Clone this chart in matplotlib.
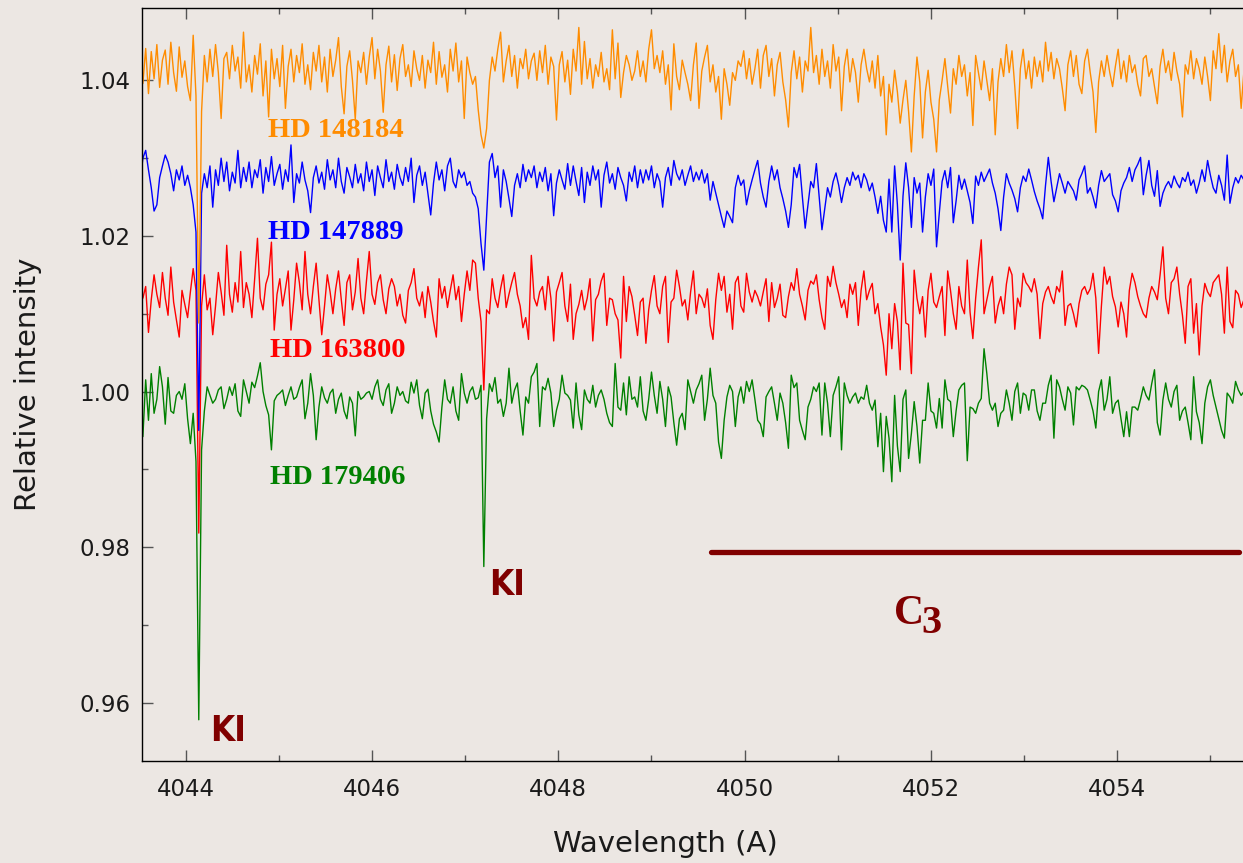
import matplotlib
matplotlib.use("Agg")
import matplotlib.pyplot as plt
import numpy as np
from matplotlib.ticker import MultipleLocator, FormatStrFormatter

# wavelength sampling of the spectra (A)
start_wl = 4043.51
step_wl = 0.03

hd148184 = [
    1.0430, 1.0396, 1.0441, 1.0383, 1.0437, 1.0402, 1.0446, 1.0391, 1.0426, 1.0439, 1.0395, 1.0449, 1.0410, 1.0386, 1.0443, 1.0404, 1.0425, 1.0392, 1.0374, 1.0458,
    1.0380, 1.0088, 1.0360, 1.0432, 1.0398, 1.0440, 1.0405, 1.0446, 1.0410, 1.0351, 1.0428, 1.0436, 1.0402, 1.0445, 1.0412, 1.0430, 1.0390, 1.0462, 1.0398, 1.0420,
    1.0385, 1.0432, 1.0408, 1.0447, 1.0380, 1.0425, 1.0353, 1.0440, 1.0402, 1.0428, 1.0392, 1.0445, 1.0364, 1.0418, 1.0440, 1.0398, 1.0432, 1.0410, 1.0447, 1.0395,
    1.0420, 1.0388, 1.0436, 1.0412, 1.0445, 1.0398, 1.0430, 1.0385, 1.0440, 1.0405, 1.0426, 1.0455, 1.0392, 1.0357, 1.0418, 1.0438, 1.0400, 1.0350, 1.0425, 1.0410,
    1.0436, 1.0395, 1.0430, 1.0455, 1.0402, 1.0440, 1.0412, 1.0359, 1.0420, 1.0444, 1.0398, 1.0433, 1.0387, 1.0428, 1.0446, 1.0405, 1.0420, 1.0392, 1.0438, 1.0415,
    1.0400, 1.0432, 1.0390, 1.0426, 1.0410, 1.0449, 1.0395, 1.0437, 1.0404, 1.0420, 1.0385, 1.0440, 1.0412, 1.0448, 1.0398, 1.0425, 1.0351, 1.0430, 1.0410, 1.0395,
    1.0405, 1.0362, 1.0330, 1.0313, 1.0338, 1.0400, 1.0430, 1.0412, 1.0440, 1.0462, 1.0398, 1.0425, 1.0445, 1.0405, 1.0432, 1.0390, 1.0428, 1.0415, 1.0440, 1.0402,
    1.0425, 1.0435, 1.0400, 1.0438, 1.0410, 1.0445, 1.0395, 1.0430, 1.0418, 1.0349, 1.0420, 1.0437, 1.0398, 1.0426, 1.0382, 1.0440, 1.0412, 1.0468, 1.0395, 1.0450,
    1.0402, 1.0428, 1.0390, 1.0420, 1.0405, 1.0436, 1.0398, 1.0415, 1.0388, 1.0465, 1.0402, 1.0448, 1.0378, 1.0410, 1.0432, 1.0420, 1.0400, 1.0412, 1.0438, 1.0405,
    1.0425, 1.0398, 1.0440, 1.0465, 1.0415, 1.0432, 1.0410, 1.0438, 1.0395, 1.0420, 1.0362, 1.0447, 1.0405, 1.0388, 1.0426, 1.0410, 1.0395, 1.0374, 1.0420, 1.0448,
    1.0364, 1.0412, 1.0430, 1.0445, 1.0398, 1.0420, 1.0385, 1.0405, 1.0350, 1.0415, 1.0395, 1.0368, 1.0410, 1.0400, 1.0425, 1.0418, 1.0438, 1.0402, 1.0428, 1.0395,
    1.0415, 1.0440, 1.0390, 1.0432, 1.0445, 1.0405, 1.0428, 1.0380, 1.0420, 1.0436, 1.0398, 1.0375, 1.0340, 1.0410, 1.0438, 1.0402, 1.0430, 1.0385, 1.0425, 1.0412,
    1.0468, 1.0410, 1.0432, 1.0395, 1.0440, 1.0405, 1.0425, 1.0390, 1.0446, 1.0412, 1.0430, 1.0361, 1.0418, 1.0440, 1.0398, 1.0428, 1.0410, 1.0372, 1.0420, 1.0440,
    1.0415, 1.0398, 1.0425, 1.0390, 1.0432, 1.0380, 1.0405, 1.0330, 1.0395, 1.0372, 1.0413, 1.0385, 1.0345, 1.0375, 1.0400, 1.0360, 1.0308, 1.0380, 1.0430, 1.0398,
    1.0326, 1.0385, 1.0413, 1.0372, 1.0350, 1.0308, 1.0375, 1.0400, 1.0428, 1.0392, 1.0358, 1.0415, 1.0395, 1.0432, 1.0405, 1.0420, 1.0380, 1.0410, 1.0342, 1.0432,
    1.0410, 1.0388, 1.0425, 1.0400, 1.0374, 1.0415, 1.0330, 1.0398, 1.0428, 1.0405, 1.0446, 1.0410, 1.0438, 1.0392, 1.0338, 1.0415, 1.0440, 1.0402, 1.0425, 1.0390,
    1.0430, 1.0405, 1.0425, 1.0398, 1.0449, 1.0412, 1.0436, 1.0402, 1.0428, 1.0415, 1.0390, 1.0361, 1.0420, 1.0438, 1.0405, 1.0432, 1.0395, 1.0383, 1.0425, 1.0440,
    1.0410, 1.0385, 1.0333, 1.0398, 1.0425, 1.0405, 1.0432, 1.0410, 1.0392, 1.0418, 1.0440, 1.0402, 1.0425, 1.0398, 1.0432, 1.0410, 1.0420, 1.0395, 1.0380, 1.0428,
    1.0432, 1.0405, 1.0415, 1.0392, 1.0370, 1.0418, 1.0440, 1.0410, 1.0425, 1.0400, 1.0436, 1.0412, 1.0395, 1.0353, 1.0420, 1.0408, 1.0438, 1.0402, 1.0428, 1.0415,
    1.0395, 1.0430, 1.0405, 1.0374, 1.0438, 1.0415, 1.0460, 1.0410, 1.0445, 1.0398, 1.0425, 1.0440, 1.0405, 1.0420, 1.0364, 1.0412,
]

hd147889 = [
    1.0269, 1.0300, 1.0310, 1.0285, 1.0262, 1.0232, 1.0240, 1.0275, 1.0290, 1.0304, 1.0295, 1.0280, 1.0258, 1.0285, 1.0272, 1.0290, 1.0265, 1.0278, 1.0262, 1.0240,
    1.0205, 0.9950, 1.0255, 1.0280, 1.0262, 1.0290, 1.0237, 1.0285, 1.0265, 1.0300, 1.0270, 1.0295, 1.0258, 1.0282, 1.0268, 1.0310, 1.0262, 1.0288, 1.0270, 1.0295,
    1.0262, 1.0285, 1.0275, 1.0298, 1.0255, 1.0288, 1.0270, 1.0302, 1.0265, 1.0280, 1.0292, 1.0260, 1.0285, 1.0270, 1.0317, 1.0243, 1.0280, 1.0268, 1.0295, 1.0272,
    1.0258, 1.0230, 1.0275, 1.0290, 1.0268, 1.0282, 1.0260, 1.0298, 1.0272, 1.0285, 1.0262, 1.0300, 1.0270, 1.0255, 1.0288, 1.0276, 1.0262, 1.0292, 1.0268, 1.0280,
    1.0258, 1.0295, 1.0270, 1.0285, 1.0252, 1.0290, 1.0275, 1.0262, 1.0298, 1.0270, 1.0282, 1.0260, 1.0292, 1.0275, 1.0265, 1.0288, 1.0270, 1.0300, 1.0243, 1.0278,
    1.0290, 1.0265, 1.0282, 1.0255, 1.0227, 1.0268, 1.0295, 1.0272, 1.0285, 1.0258, 1.0290, 1.0300, 1.0270, 1.0262, 1.0285, 1.0275, 1.0282, 1.0265, 1.0270, 1.0255,
    1.0250, 1.0235, 1.0190, 1.0156, 1.0225, 1.0295, 1.0306, 1.0275, 1.0290, 1.0237, 1.0285, 1.0270, 1.0248, 1.0225, 1.0265, 1.0280, 1.0262, 1.0292, 1.0270, 1.0285,
    1.0275, 1.0290, 1.0262, 1.0282, 1.0270, 1.0288, 1.0258, 1.0280, 1.0226, 1.0268, 1.0285, 1.0272, 1.0260, 1.0293, 1.0265, 1.0290, 1.0270, 1.0252, 1.0288, 1.0243,
    1.0282, 1.0265, 1.0290, 1.0272, 1.0285, 1.0237, 1.0278, 1.0295, 1.0268, 1.0280, 1.0260, 1.0288, 1.0275, 1.0265, 1.0245, 1.0282, 1.0270, 1.0290, 1.0262, 1.0285,
    1.0268, 1.0285, 1.0272, 1.0290, 1.0262, 1.0280, 1.0270, 1.0237, 1.0275, 1.0288, 1.0265, 1.0297, 1.0280, 1.0272, 1.0285, 1.0265, 1.0278, 1.0290, 1.0270, 1.0282,
    1.0272, 1.0285, 1.0268, 1.0280, 1.0246, 1.0270, 1.0255, 1.0240, 1.0225, 1.0211, 1.0232, 1.0225, 1.0217, 1.0262, 1.0278, 1.0265, 1.0272, 1.0240, 1.0258, 1.0272,
    1.0285, 1.0297, 1.0268, 1.0250, 1.0237, 1.0270, 1.0290, 1.0272, 1.0285, 1.0262, 1.0248, 1.0232, 1.0211, 1.0240, 1.0288, 1.0275, 1.0292, 1.0250, 1.0210, 1.0240,
    1.0270, 1.0262, 1.0293, 1.0250, 1.0208, 1.0235, 1.0262, 1.0250, 1.0270, 1.0281, 1.0265, 1.0243, 1.0262, 1.0275, 1.0265, 1.0282, 1.0272, 1.0278, 1.0262, 1.0280,
    1.0272, 1.0258, 1.0268, 1.0250, 1.0229, 1.0251, 1.0220, 1.0205, 1.0273, 1.0205, 1.0290, 1.0240, 1.0169, 1.0251, 1.0294, 1.0262, 1.0211, 1.0275, 1.0255, 1.0268,
    1.0205, 1.0250, 1.0280, 1.0265, 1.0286, 1.0186, 1.0230, 1.0270, 1.0284, 1.0262, 1.0288, 1.0217, 1.0245, 1.0278, 1.0260, 1.0273, 1.0258, 1.0243, 1.0216, 1.0277,
    1.0265, 1.0282, 1.0270, 1.0278, 1.0286, 1.0268, 1.0255, 1.0235, 1.0207, 1.0250, 1.0280, 1.0268, 1.0259, 1.0248, 1.0231, 1.0262, 1.0277, 1.0270, 1.0286, 1.0272,
    1.0257, 1.0245, 1.0235, 1.0222, 1.0265, 1.0301, 1.0270, 1.0244, 1.0262, 1.0280, 1.0268, 1.0255, 1.0270, 1.0264, 1.0258, 1.0246, 1.0272, 1.0280, 1.0290, 1.0255,
    1.0262, 1.0250, 1.0236, 1.0265, 1.0284, 1.0270, 1.0275, 1.0280, 1.0253, 1.0245, 1.0231, 1.0258, 1.0268, 1.0275, 1.0288, 1.0270, 1.0285, 1.0292, 1.0301, 1.0253,
    1.0278, 1.0297, 1.0265, 1.0251, 1.0284, 1.0238, 1.0255, 1.0264, 1.0270, 1.0262, 1.0277, 1.0268, 1.0262, 1.0275, 1.0270, 1.0282, 1.0265, 1.0272, 1.0255, 1.0268,
    1.0285, 1.0270, 1.0297, 1.0278, 1.0262, 1.0255, 1.0278, 1.0265, 1.0246, 1.0304, 1.0242, 1.0262, 1.0275, 1.0268, 1.0278, 1.0272,
]

hd163800 = [
    1.0139, 1.0120, 1.0135, 1.0076, 1.0118, 1.0150, 1.0125, 1.0108, 1.0153, 1.0120, 1.0098, 1.0160, 1.0115, 1.0092, 1.0070, 1.0130, 1.0112, 1.0095, 1.0128, 1.0158,
    1.0130, 0.9818, 1.0110, 1.0150, 1.0105, 1.0120, 1.0073, 1.0110, 1.0153, 1.0128, 1.0098, 1.0188, 1.0125, 1.0102, 1.0140, 1.0115, 1.0180, 1.0108, 1.0140, 1.0125,
    1.0095, 1.0145, 1.0197, 1.0120, 1.0105, 1.0138, 1.0150, 1.0192, 1.0079, 1.0125, 1.0145, 1.0110, 1.0132, 1.0155, 1.0079, 1.0118, 1.0165, 1.0140, 1.0105, 1.0180,
    1.0125, 1.0100, 1.0135, 1.0165, 1.0118, 1.0073, 1.0110, 1.0150, 1.0128, 1.0100, 1.0132, 1.0155, 1.0118, 1.0085, 1.0140, 1.0150, 1.0105, 1.0128, 1.0171, 1.0120,
    1.0100, 1.0142, 1.0180, 1.0125, 1.0112, 1.0140, 1.0150, 1.0118, 1.0100, 1.0132, 1.0145, 1.0135, 1.0110, 1.0125, 1.0098, 1.0088, 1.0130, 1.0140, 1.0158, 1.0120,
    1.0110, 1.0128, 1.0095, 1.0135, 1.0115, 1.0090, 1.0070, 1.0145, 1.0120, 1.0135, 1.0108, 1.0130, 1.0150, 1.0118, 1.0135, 1.0090, 1.0125, 1.0155, 1.0130, 1.0169,
    1.0165, 1.0120, 1.0090, 1.0002, 1.0105, 1.0100, 1.0145, 1.0120, 1.0108, 1.0132, 1.0150, 1.0108, 1.0125, 1.0140, 1.0153, 1.0125, 1.0110, 1.0082, 1.0095, 1.0067,
    1.0175, 1.0120, 1.0110, 1.0128, 1.0135, 1.0105, 1.0148, 1.0120, 1.0065, 1.0128, 1.0140, 1.0153, 1.0110, 1.0090, 1.0138, 1.0067, 1.0100, 1.0112, 1.0130, 1.0105,
    1.0120, 1.0145, 1.0065, 1.0118, 1.0125, 1.0142, 1.0152, 1.0085, 1.0120, 1.0118, 1.0100, 1.0092, 1.0043, 1.0148, 1.0090, 1.0135, 1.0122, 1.0098, 1.0072, 1.0115,
    1.0120, 1.0062, 1.0105, 1.0130, 1.0149, 1.0110, 1.0100, 1.0135, 1.0148, 1.0063, 1.0115, 1.0120, 1.0156, 1.0135, 1.0110, 1.0118, 1.0092, 1.0128, 1.0155, 1.0100,
    1.0125, 1.0120, 1.0108, 1.0132, 1.0085, 1.0067, 1.0118, 1.0152, 1.0130, 1.0148, 1.0102, 1.0125, 1.0080, 1.0140, 1.0148, 1.0110, 1.0102, 1.0152, 1.0128, 1.0115,
    1.0130, 1.0122, 1.0110, 1.0128, 1.0145, 1.0090, 1.0140, 1.0108, 1.0120, 1.0138, 1.0098, 1.0095, 1.0122, 1.0140, 1.0130, 1.0158, 1.0125, 1.0110, 1.0092, 1.0130,
    1.0142, 1.0138, 1.0150, 1.0118, 1.0095, 1.0080, 1.0148, 1.0135, 1.0161, 1.0140, 1.0125, 1.0108, 1.0118, 1.0095, 1.0138, 1.0125, 1.0140, 1.0085, 1.0130, 1.0155,
    1.0118, 1.0130, 1.0139, 1.0100, 1.0113, 1.0083, 1.0060, 1.0021, 1.0100, 1.0055, 1.0113, 1.0090, 1.0028, 1.0165, 1.0088, 1.0086, 1.0023, 1.0156, 1.0120, 1.0100,
    1.0122, 1.0070, 1.0130, 1.0152, 1.0115, 1.0108, 1.0122, 1.0135, 1.0072, 1.0155, 1.0130, 1.0100, 1.0080, 1.0135, 1.0110, 1.0100, 1.0169, 1.0102, 1.0068, 1.0120,
    1.0160, 1.0195, 1.0100, 1.0118, 1.0135, 1.0148, 1.0088, 1.0110, 1.0122, 1.0100, 1.0138, 1.0160, 1.0150, 1.0080, 1.0120, 1.0109, 1.0152, 1.0140, 1.0135, 1.0128,
    1.0145, 1.0125, 1.0068, 1.0113, 1.0128, 1.0135, 1.0122, 1.0113, 1.0135, 1.0128, 1.0155, 1.0085, 1.0110, 1.0113, 1.0100, 1.0083, 1.0113, 1.0130, 1.0135, 1.0125,
    1.0132, 1.0152, 1.0120, 1.0049, 1.0110, 1.0160, 1.0138, 1.0148, 1.0122, 1.0109, 1.0083, 1.0115, 1.0100, 1.0070, 1.0130, 1.0152, 1.0140, 1.0122, 1.0110, 1.0100,
    1.0095, 1.0120, 1.0135, 1.0128, 1.0118, 1.0150, 1.0186, 1.0120, 1.0100, 1.0140, 1.0145, 1.0160, 1.0125, 1.0098, 1.0062, 1.0135, 1.0145, 1.0075, 1.0113, 1.0047,
    1.0110, 1.0139, 1.0128, 1.0122, 1.0140, 1.0145, 1.0150, 1.0125, 1.0075, 1.0160, 1.0090, 1.0082, 1.0130, 1.0125, 1.0108, 1.0118,
]

hd179406 = [
    0.9985, 0.9942, 1.0015, 0.9963, 1.0023, 0.9972, 0.9990, 1.0032, 1.0006, 0.9958, 1.0018, 0.9975, 0.9972, 0.9995, 1.0000, 0.9990, 1.0010, 0.9965, 0.9933, 0.9972,
    0.9910, 0.9578, 0.9925, 0.9975, 1.0006, 0.9995, 0.9985, 0.9990, 1.0002, 1.0006, 0.9978, 0.9990, 1.0006, 0.9995, 1.0010, 0.9975, 0.9968, 1.0015, 1.0000, 0.9985,
    1.0012, 1.0005, 1.0020, 1.0037, 1.0000, 0.9982, 0.9970, 0.9925, 0.9988, 0.9995, 0.9998, 1.0002, 0.9982, 0.9995, 1.0006, 0.9990, 0.9993, 1.0005, 1.0015, 0.9965,
    0.9985, 1.0023, 0.9995, 0.9938, 0.9980, 1.0006, 0.9992, 0.9985, 0.9998, 1.0003, 0.9972, 0.9990, 0.9998, 0.9975, 0.9965, 0.9993, 0.9985, 0.9943, 1.0000, 0.9990,
    0.9993, 0.9998, 1.0000, 0.9990, 1.0006, 1.0015, 0.9990, 0.9982, 1.0002, 1.0010, 0.9972, 0.9985, 1.0006, 0.9995, 1.0000, 0.9988, 0.9985, 1.0012, 0.9998, 1.0015,
    0.9982, 0.9965, 0.9998, 1.0003, 0.9975, 0.9958, 0.9948, 0.9935, 0.9980, 1.0015, 0.9990, 0.9985, 1.0006, 0.9975, 0.9963, 1.0023, 0.9998, 0.9985, 1.0000, 1.0006,
    0.9990, 0.9992, 1.0008, 0.9775, 0.9965, 1.0010, 1.0000, 1.0018, 0.9985, 0.9990, 0.9968, 0.9985, 1.0030, 0.9985, 1.0002, 1.0011, 0.9975, 0.9944, 0.9993, 0.9985,
    1.0019, 1.0025, 1.0036, 0.9955, 1.0006, 1.0002, 1.0017, 0.9998, 0.9955, 0.9976, 0.9990, 1.0021, 0.9998, 0.9995, 0.9989, 0.9953, 1.0011, 0.9970, 0.9951, 1.0002,
    0.9990, 0.9985, 1.0008, 0.9980, 0.9995, 1.0002, 0.9990, 0.9972, 0.9960, 0.9955, 1.0036, 0.9980, 0.9976, 1.0011, 0.9970, 1.0019, 0.9990, 0.9993, 0.9980, 1.0019,
    0.9975, 0.9963, 0.9990, 1.0025, 0.9995, 0.9972, 1.0013, 0.9990, 0.9955, 1.0006, 0.9993, 0.9960, 0.9931, 0.9965, 0.9972, 0.9951, 1.0015, 1.0000, 0.9985, 1.0002,
    1.0010, 1.0021, 0.9963, 0.9990, 1.0030, 0.9995, 0.9985, 0.9935, 0.9914, 0.9963, 0.9993, 1.0008, 1.0000, 0.9955, 0.9993, 1.0006, 0.9985, 1.0013, 1.0000, 1.0015,
    0.9990, 0.9963, 0.9958, 0.9942, 0.9993, 1.0000, 1.0006, 0.9985, 0.9963, 0.9998, 0.9985, 0.9960, 0.9927, 1.0021, 1.0005, 1.0011, 0.9963, 0.9950, 0.9938, 0.9980,
    0.9990, 1.0006, 1.0000, 1.0011, 0.9944, 1.0011, 0.9985, 0.9942, 0.9995, 1.0006, 1.0019, 0.9925, 1.0011, 0.9995, 0.9985, 0.9993, 0.9998, 0.9985, 0.9993, 0.9990,
    1.0008, 0.9985, 0.9976, 0.9989, 0.9929, 0.9972, 0.9897, 0.9968, 0.9940, 0.9884, 0.9995, 0.9930, 0.9897, 0.9990, 1.0002, 0.9914, 0.9946, 0.9987, 0.9955, 0.9908,
    0.9963, 0.9963, 1.0011, 0.9975, 0.9972, 0.9953, 0.9991, 0.9953, 1.0015, 0.9990, 0.9987, 0.9942, 0.9975, 1.0002, 1.0008, 1.0011, 0.9911, 0.9980, 0.9978, 0.9972,
    0.9985, 0.9991, 1.0055, 1.0023, 0.9985, 0.9976, 0.9985, 0.9955, 0.9972, 0.9976, 1.0002, 0.9985, 0.9963, 1.0000, 1.0011, 0.9972, 0.9998, 0.9995, 0.9976, 1.0002,
    1.0002, 0.9975, 0.9963, 0.9985, 0.9985, 1.0008, 1.0021, 0.9940, 1.0015, 1.0006, 0.9990, 0.9976, 1.0006, 0.9998, 0.9957, 1.0006, 1.0002, 1.0008, 1.0006, 1.0002,
    0.9989, 0.9975, 0.9953, 1.0000, 1.0015, 0.9976, 0.9990, 1.0019, 0.9972, 0.9985, 0.9989, 0.9965, 0.9942, 0.9974, 0.9942, 0.9980, 0.9980, 0.9976, 0.9990, 1.0006,
    0.9995, 0.9989, 1.0010, 1.0028, 0.9960, 0.9944, 0.9989, 1.0011, 0.9990, 0.9980, 1.0000, 1.0008, 0.9963, 0.9975, 0.9980, 0.9960, 0.9938, 1.0019, 0.9974, 0.9960,
    0.9933, 0.9985, 1.0006, 1.0015, 0.9995, 0.9980, 0.9965, 0.9950, 0.9940, 0.9998, 0.9993, 0.9985, 1.0013, 1.0002, 0.9995, 1.0000,
]

star_names = ["HD 148184", "HD 147889", "HD 163800", "HD 179406"]
star_flux = [hd148184, hd147889, hd163800, hd179406]
star_colors = ["#ff8c00", "#0000ff", "#ff0000", "#008000"]
name_x = [4044.88, 4044.88, 4044.90, 4044.90]
name_y = [1.0336, 1.0205, 1.0053, 0.9890]

ki_x = [4044.26, 4047.26]
ki_y = [0.9563, 0.9751]
c3_start, c3_end, c3_level = 4049.64, 4055.31, 0.9794
dark_red = "#800000"

bg = "#ece7e3"
fig = plt.figure(figsize=(12.43, 8.63), dpi=100, facecolor=bg)
ax = fig.add_axes([0.1142, 0.1182, 0.8858, 0.8725], facecolor=bg)

# green first so the orange trace ends up on top
for name, flux, col in reversed(list(zip(star_names, star_flux, star_colors))):
    wl = start_wl + step_wl * np.arange(len(flux))
    ax.plot(wl, flux, color=col, lw=1.0)

for name, col, x, y in zip(star_names, star_colors, name_x, name_y):
    ax.text(x, y, name, color=col, fontsize=20.5, fontweight="bold",
            family="Liberation Serif", va="center", ha="left")

for x, y in zip(ki_x, ki_y):
    ax.text(x, y, "KI", color=dark_red, fontsize=25, fontweight="bold",
            family="DejaVu Sans", fontstretch="condensed", va="center", ha="left")

ax.plot([c3_start, c3_end], [c3_level, c3_level], color=dark_red, lw=3.8,
        solid_capstyle="round")
ax.text(4051.60, 0.9714, "C", color=dark_red, fontsize=30, fontweight="bold",
        family="Liberation Serif", va="center", ha="left")
ax.annotate("3", xy=(4051.60, 0.9714), xytext=(20, -7), textcoords="offset points",
            color=dark_red, fontsize=29, fontweight="bold", family="Liberation Serif",
            va="center", ha="left")

ax.set_xlim(4043.53, 4055.35)
ax.set_ylim(0.9525, 1.0493)
ax.xaxis.set_major_locator(MultipleLocator(2))
ax.xaxis.set_minor_locator(MultipleLocator(1))
ax.yaxis.set_major_locator(MultipleLocator(0.02))
ax.yaxis.set_minor_locator(MultipleLocator(0.01))
ax.xaxis.set_major_formatter(FormatStrFormatter("%d"))
ax.yaxis.set_major_formatter(FormatStrFormatter("%.2f"))

ax.tick_params(which="both", direction="in", top=True, right=False,
               color="#555555", labelcolor="#1a1a1a", labelsize=16.5)
ax.tick_params(which="major", length=8, width=1.0)
ax.tick_params(which="minor", length=4, width=1.0)
ax.tick_params(axis="x", pad=12)
ax.tick_params(axis="y", pad=8)
ax.spines["right"].set_visible(False)
for s in ["left", "bottom", "top"]:
    ax.spines[s].set_linewidth(1.0)

ax.set_xlabel("Wavelength (A)", fontsize=21, color="#1a1a1a")
ax.set_ylabel("Relative intensity", fontsize=21, color="#1a1a1a")
ax.xaxis.set_label_coords(0.475, -0.092)
ax.yaxis.set_label_coords(-0.091, 0.5)

fig.savefig("out.png", dpi=100, facecolor=bg)
